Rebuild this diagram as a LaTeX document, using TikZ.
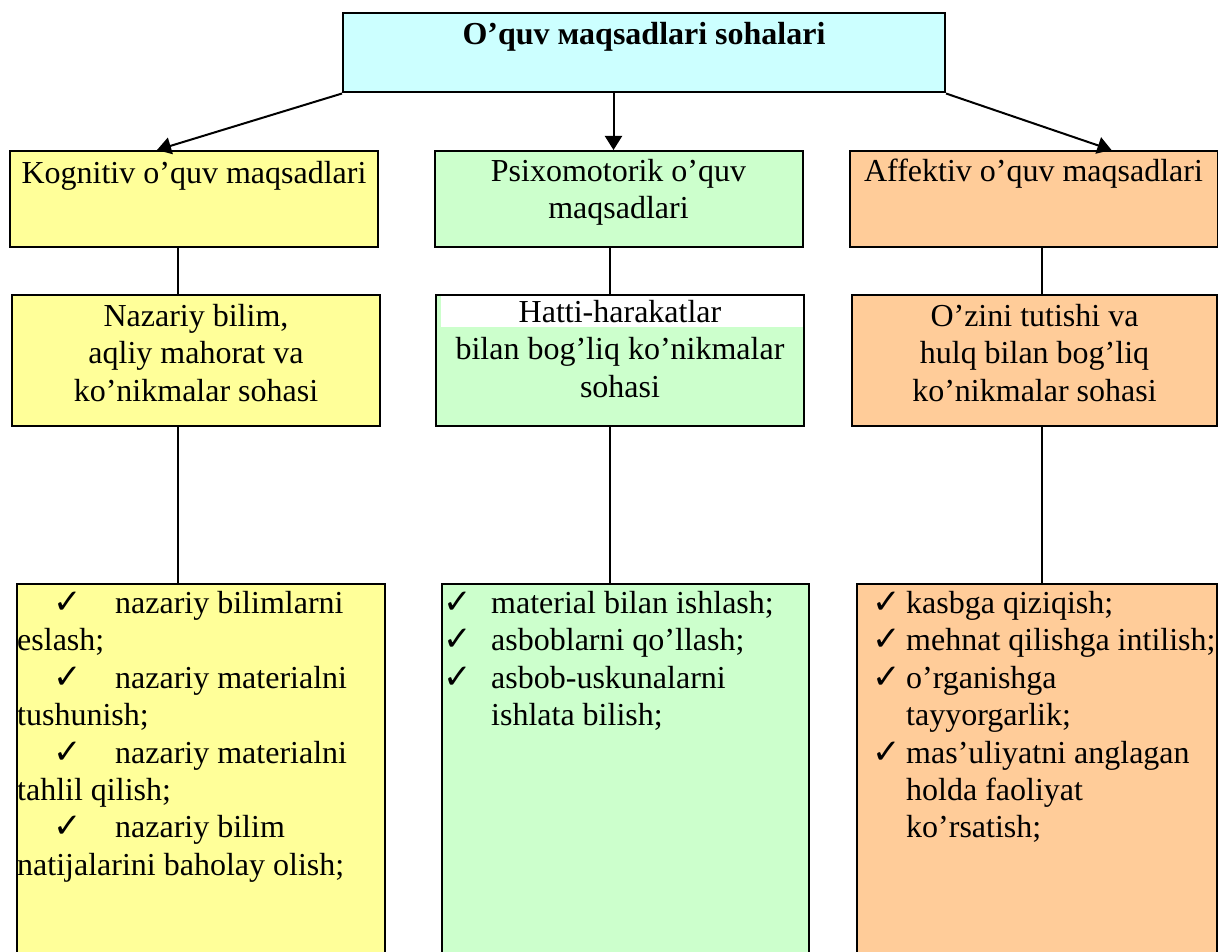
\documentclass[tikz,border=0pt]{standalone}
\usepackage{fontspec}
\setmainfont{Liberation Serif}
\newfontfamily\symfont{DejaVu Sans}
\usetikzlibrary{arrows.meta,calc,positioning}
\definecolor{sohafill}{HTML}{CCFFFF}
\definecolor{kogfill}{HTML}{FFFF99}
\definecolor{psifill}{HTML}{CCFFCC}
\definecolor{afffill}{HTML}{FFCC99}
\newcommand{\tick}{{\symfont\fontsize{34}{34}\selectfont ✓}}
\newcommand{\tickbox}[1]{\makebox[#1][l]{\tick}}

\begin{document}
\begin{tikzpicture}[x=1pt,y=-1pt,every node/.append style={font=\fontsize{32}{37.4}\selectfont},
                    box/.style={draw=black, line width=2pt, inner sep=0pt},
                    row1/.style={box, minimum width=368pt, minimum height=96pt},
                    row2/.style={box, minimum width=368pt, minimum height=131pt},
                    row3/.style={box, minimum height=382pt},
                    txt/.style={anchor=north, align=center, inner sep=0pt},
                    lst/.style={anchor=north west, align=left, inner sep=0pt},
                    arr/.style={line width=2pt, -{Triangle[length=14pt,width=17pt]}},
                    conn/.style={line width=2pt}]
    \useasboundingbox (0,0) rectangle (1218,952);
    \node[box, fill=sohafill, minimum width=602pt, minimum height=79pt,
          label={[txt, yshift=-10pt]north:\textbf{O’quv маqsadlari sohalari}}] (soha) at (644,53) {};
    \node[row1, fill=kogfill, label={[txt, yshift=-11pt]north:Kognitiv o’quv maqsadlari}] (kog) at (194,199) {};
    \node[row1, fill=psifill, label={[txt, yshift=-9pt]north:Psixomotorik o’quv\\maqsadlari}] (psi) at (618.5,199) {};
    \node[row1, fill=afffill, label={[txt, yshift=-9pt]north:Affektiv o’quv maqsadlari}] (aff) at (1033.5,199) {};
    \node[row2, fill=kogfill, label={[txt, yshift=-10pt]north:Nazariy bilim,\\aqliy mahorat va\\ko’nikmalar sohasi}] (naz) at (196,360.5) {};
    \node[row2, fill=psifill,
          path picture={\fill[white] ($(path picture bounding box.north west)+(5pt,-1pt)$)
                        rectangle ($(path picture bounding box.north east)+(0,-32pt)$);},
          label={[txt, yshift=-6pt]north:Hatti-harakatlar\\bilan bog’liq ko’nikmalar\\sohasi}] (hat) at (620,360.5) {};
    \node[row2, fill=afffill, minimum width=365pt,
          label={[txt, yshift=-10pt]north:O’zini tutishi va\\hulq bilan bog’liq\\ko’nikmalar sohasi}] (ozi) at (1034.5,360.5) {};
    \node[row3, fill=kogfill, minimum width=368pt] (kogl) at (201,775) {};
    \node[row3, fill=psifill, minimum width=367pt] (psil) at (625.5,775) {};
    \node[row3, fill=afffill, minimum width=360pt] (affl) at (1037,775) {};
    \node[lst, xshift=1pt, yshift=-8pt] (kogt) at (kogl.north west)
      {\hspace*{36pt}\tickbox{62pt}nazariy bilimlarni\\eslash;\\
       \hspace*{36pt}\tickbox{62pt}nazariy materialni\\tushunish;\\
       \hspace*{36pt}\tickbox{62pt}nazariy materialni\\tahlil qilish;\\
       \hspace*{36pt}\tickbox{62pt}nazariy bilim\\natijalarini baholay olish;};
    \node[lst, xshift=2pt, yshift=-8pt] (psit) at (psil.north west)
      {\tickbox{48pt}material bilan ishlash;\\
       \tickbox{48pt}asboblarni qo’llash;\\
       \tickbox{48pt}asbob-uskunalarni\\
       \hspace*{48pt}ishlata bilish;};
    \node[lst, xshift=16pt, yshift=-8pt] (afft) at (affl.north west)
      {\tickbox{34pt}kasbga qiziqish;\\
       \tickbox{34pt}mehnat qilishga intilish;\\
       \tickbox{34pt}o’rganishga\\
       \hspace*{34pt}tayyorgarlik;\\
       \tickbox{34pt}mas’uliyatni anglagan\\
       \hspace*{34pt}holda faoliyat\\
       \hspace*{34pt}ko’rsatish;};
    \coordinate (kx) at (178,0);
    \coordinate (px) at (610,0);
    \coordinate (ax) at (1042,0);
    \draw[arr] (soha.south west) -- ([xshift=-37pt]kog.north);
    \draw[arr] ([xshift=-5pt]soha.south -| psi.north) -- ([xshift=-5pt]psi.north);
    \draw[arr] (soha.south east) -- ([xshift=78pt]aff.north);
    \draw[conn] (kog.south -| kx) -- (naz.north -| kx);
    \draw[conn] (psi.south -| px) -- (hat.north -| px);
    \draw[conn] (aff.south -| ax) -- (ozi.north -| ax);
    \draw[conn] (naz.south -| kx) -- (kogl.north -| kx);
    \draw[conn] (hat.south -| px) -- (psil.north -| px);
    \draw[conn] (ozi.south -| ax) -- (affl.north -| ax);
\end{tikzpicture}
\end{document}
